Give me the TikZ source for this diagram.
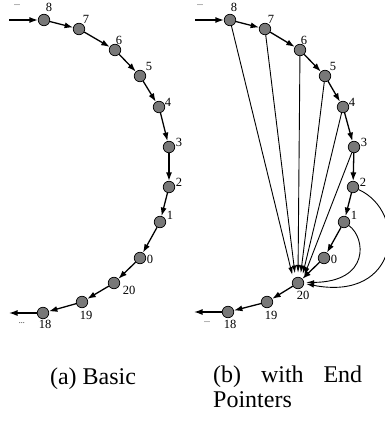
\documentclass[tikz,border=0pt]{standalone}
\usepackage{fontspec}
\setmainfont{Liberation Serif}
\usetikzlibrary{arrows.meta}
\begin{document}
\begin{tikzpicture}[x=1pt,y=-1pt,
  vtx/.style={circle,draw=black,fill=black!53,line width=0.7pt,minimum size=11.5pt,inner sep=0pt},
  lbl/.style={font=\fontsize{12.5}{14}\selectfont,inner sep=0pt},
  dots/.style={font=\fontsize{8}{9}\selectfont,inner sep=0pt},
  chain/.style={line width=1.3pt,-{Latex[length=8.5pt,width=6pt]}},
  ptr/.style={line width=0.9pt,-{Latex[length=8pt,width=4.5pt]},shorten >=4pt},
  captext/.style={font=\fontsize{24}{25}\selectfont,inner sep=0pt}]
\useasboundingbox (0,0) rectangle (385,423);
% ---------- (a) ----------
\begin{scope}
\node[vtx] (a8) at (44,20) {};
\node[vtx] (a7) at (79,29) {};
\node[vtx] (a6) at (115,50) {};
\node[vtx] (a5) at (140,76) {};
\node[vtx] (a4) at (159,107) {};
\node[vtx] (a3) at (169,147) {};
\node[vtx] (a2) at (169,187) {};
\node[vtx] (a1) at (160,222) {};
\node[vtx] (a0) at (140,258) {};
\node[vtx] (a20) at (114,283) {};
\node[vtx] (a19) at (82,302) {};
\node[vtx] (a18) at (43,313) {};
\coordinate (ain) at (9,20);
\coordinate (aout) at (9,313);
\node[dots] at (17,5) {...};
\node[dots] at (22,323) {...};
\node[lbl] at (49,7) {8};
\node[lbl] at (86,19) {7};
\node[lbl] at (119,40) {6};
\node[lbl] at (149,66) {5};
\node[lbl] at (168,102) {4};
\node[lbl] at (179,142) {3};
\node[lbl] at (179,182) {2};
\node[lbl] at (170,215) {1};
\node[lbl] at (150,259) {0};
\node[lbl] at (129,290) {20};
\node[lbl] at (86,315) {19};
\node[lbl] at (45,324) {18};
\draw[chain] (ain) -- (a8);
\draw[chain] (a8) -- (a7);
\draw[chain] (a7) -- (a6);
\draw[chain] (a6) -- (a5);
\draw[chain] (a5) -- (a4);
\draw[chain] (a4) -- (a3);
\draw[chain] (a3) -- (a2);
\draw[chain] (a2) -- (a1);
\draw[chain] (a1) -- (a0);
\draw[chain] (a0) -- (a20);
\draw[chain] (a20) -- (a19);
\draw[chain] (a19) -- (a18);
\draw[chain] (a18) -- (aout);
\end{scope}
% ---------- (b) ----------
\begin{scope}
\node[vtx] (b8) at (230,20) {};
\node[vtx] (b7) at (265,29) {};
\node[vtx] (b6) at (300,50) {};
\node[vtx] (b5) at (325,76) {};
\node[vtx] (b4) at (343,107) {};
\node[vtx] (b3) at (354,147) {};
\node[vtx] (b2) at (353,187) {};
\node[vtx] (b1) at (344,222) {};
\node[vtx] (b0) at (324,258) {};
\node[vtx] (b20) at (298,283) {};
\node[vtx] (b19) at (267,302) {};
\node[vtx] (b18) at (228,312) {};
\coordinate (bin) at (195,20);
\coordinate (bout) at (194,312);
\node[dots] at (200,5) {...};
\node[dots] at (207,322) {...};
\node[lbl] at (234,7) {8};
\node[lbl] at (271,19) {7};
\node[lbl] at (304,40) {6};
\node[lbl] at (333,66) {5};
\node[lbl] at (352,102) {4};
\node[lbl] at (364,142) {3};
\node[lbl] at (363,182) {2};
\node[lbl] at (354,215) {1};
\node[lbl] at (334,259) {0};
\node[lbl] at (303,295) {20};
\node[lbl] at (271,315) {19};
\node[lbl] at (230,324) {18};
\draw[chain] (bin) -- (b8);
\draw[chain] (b8) -- (b7);
\draw[chain] (b7) -- (b6);
\draw[chain] (b6) -- (b5);
\draw[chain] (b5) -- (b4);
\draw[chain] (b4) -- (b3);
\draw[chain] (b3) -- (b2);
\draw[chain] (b2) -- (b1);
\draw[chain] (b1) -- (b0);
\draw[chain] (b0) -- (b20);
\draw[chain] (b20) -- (b19);
\draw[chain] (b19) -- (b18);
\draw[chain] (b18) -- (bout);
% end pointers
\draw[ptr] (b8) -- (b20.140);
\draw[ptr] (b7) -- (b20.115);
\draw[ptr] (b6) -- (b20.90);
\draw[ptr] (b5) -- (b20.68);
\draw[ptr] (b4) -- (b20.52);
\draw[ptr] (b3) -- (b20.38);
\draw[ptr,shorten >=2pt] (b1) .. controls (366,238) and (370,282) .. (b20.5);
\draw[ptr,shorten >=2pt] (b2) .. controls (408,212) and (400,302) .. (b20.-5);
\end{scope}
% captions
\node[captext,anchor=base] at (93,384) {(a) Basic};
\node[captext,anchor=north west,text width=149pt,align=justify] at (213,366) {(b) with End Pointers};
\end{tikzpicture}
\end{document}
